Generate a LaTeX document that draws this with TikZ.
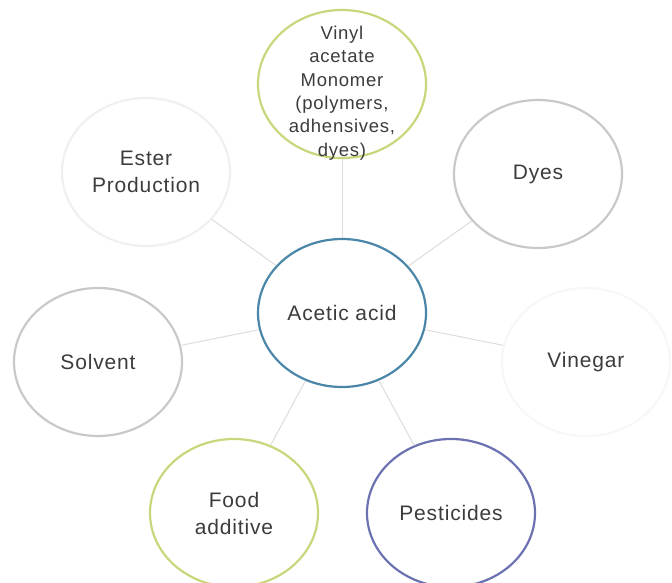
\documentclass[tikz,border=0pt]{standalone}
\usepackage{fontspec}
\setmainfont{Liberation Sans}[LetterSpace=4]
\usetikzlibrary{shapes.geometric}
\definecolor{txt}{HTML}{3C3C3C}
\definecolor{cblue}{HTML}{4A86A8}
\definecolor{cgreen}{HTML}{C8D67C}
\definecolor{cviolet}{HTML}{6C71B2}
\definecolor{cgray}{HTML}{C9C9C9}
\definecolor{cfaint}{HTML}{F0F0F0}
\definecolor{cfainter}{HTML}{F7F7F7}
\definecolor{cline}{HTML}{DCDCDC}
\tikzset{
  bubble/.style={ellipse, minimum width=168pt, minimum height=148pt, inner sep=0pt,
    line width=2.2pt, align=center, text=txt, font=\fontsize{21}{27}\selectfont},
  conn/.style={draw=cline, line width=1pt}
}
\begin{document}
\begin{tikzpicture}[x=1pt,y=-1pt]
\useasboundingbox (0,0) rectangle (672,583);
\node[bubble, draw=cblue] (c) at (342,313) {Acetic acid};
\node[bubble, draw=cgreen] (v) at (342,84) {};
\node[inner sep=0pt, align=center, text=txt, font=\fontsize{18.5}{23.4}\selectfont] (vt)
  at ([yshift=-9pt]v.center) {Vinyl\\acetate\\Monomer\\(polymers,\\adhensives,\\dyes)};
\node[bubble, draw=cgray] (d) at (538,174) {Dyes};
\node[bubble, draw=cfainter] (vi) at (586,362) {Vinegar};
\node[bubble, draw=cgray] (s) at (98,362) {Solvent};
\node[bubble, draw=cfaint] (e) at (146,172) {Ester\\Production};
\node[bubble, draw=cgreen] (f) at (234,513) {Food\\additive};
\node[bubble, draw=cviolet] (p) at (451,513) {Pesticides};
\foreach \n in {v,d,vi,s,e,f,p} \draw[conn] (c) -- (\n);
\end{tikzpicture}
\end{document}
